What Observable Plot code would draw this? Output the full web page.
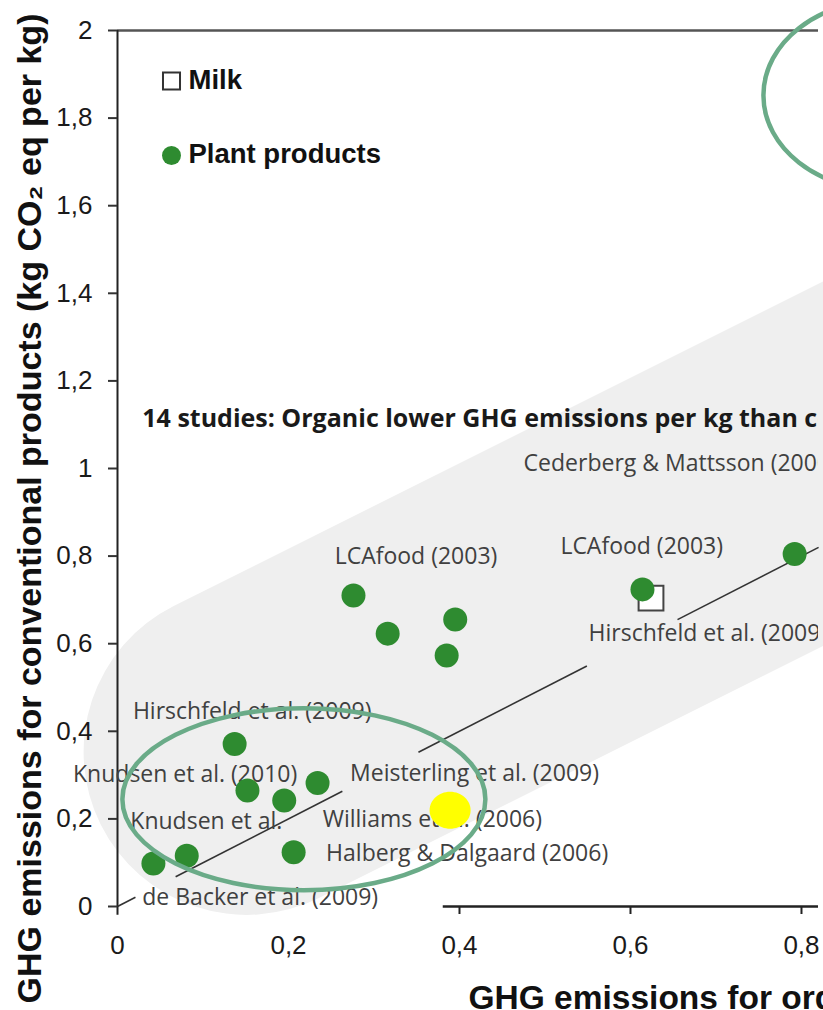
<!DOCTYPE html>
<html><head><meta charset="utf-8">
<script src="https://cdn.jsdelivr.net/npm/d3@7"></script>
<script src="https://cdn.jsdelivr.net/npm/@observablehq/plot@0.6"></script>
<style>html,body{margin:0;padding:0;background:#fff;} #chart svg{display:block;}</style>
</head><body><div id="chart"></div>
<script>
// ---- data ----
const plantX = [0.042, 0.081, 0.137, 0.152, 0.195, 0.234, 0.206, 0.276, 0.316, 0.395, 0.385, 0.614, 0.792];
const plantY = [0.098, 0.116, 0.371, 0.265, 0.242, 0.282, 0.124, 0.710, 0.623, 0.655, 0.573, 0.724, 0.805];
const milkX = [0.624];
const milkY = [0.704];
const highlightX = [0.389];
const highlightY = [0.220];
const labelTexts = ["Hirschfeld et al. (2009)", "Knudsen et al. (2010)", "Meisterling et al. (2009)", "Knudsen et al.",
  "Williams et al. (2006)", "Halberg & Dalgaard (2006)", "de Backer et al. (2009)", "LCAfood (2003)",
  "LCAfood (2003)", "Hirschfeld et al. (2009)", "Cederberg & Mattsson (2000)"];
const labelX = [0.018, -0.052, 0.272, 0.015, 0.240, 0.244, 0.029, 0.254, 0.518, 0.551, 0.475];
const labelY = [0.444, 0.302, 0.303, 0.193, 0.199, 0.120, 0.021, 0.799, 0.822, 0.623, 1.011];
const noteText = ["14 studies: Organic lower GHG emissions per kg than conventional"];
const noteX = [0.029];
const noteY = [1.113];
const diagSegments = [[0, 0.021], [0.068, 0.263], [0.352, 0.549], [0.655, 0.82]]; // y = x line pieces
const bandX = [0.151, 1.384];
const bandY = [0.353, 1.556];
const ringCenters = [[0.218, 0.245], [0.897, 1.852]];
const xTicks = [0, 0.2, 0.4, 0.6, 0.8];
const xTickMarks = [0.4, 0.6, 0.8];
const yTicks = [0, 0.2, 0.4, 0.6, 0.8, 1, 1.2, 1.4, 1.6, 1.8, 2];
const legendItems = ["Milk", "Plant products"];
const xTitle = "GHG emissions for organic products (kg CO₂ eq per kg)";
const yTitle = "GHG emissions for conventional products (kg CO₂ eq per kg)";

// ---- helpers ----
const fmt = d => String(d).replace(".", ",");
function ellipseSymbol(rx, ry) {
  const k = 0.5523;
  return {draw(ctx) {
    const kx = rx * k, ky = ry * k;
    ctx.moveTo(rx, 0);
    ctx.bezierCurveTo(rx, ky, kx, ry, 0, ry);
    ctx.bezierCurveTo(-kx, ry, -rx, ky, -rx, 0);
    ctx.bezierCurveTo(-rx, -ky, -kx, -ry, 0, -ry);
    ctx.bezierCurveTo(kx, -ry, rx, -ky, rx, 0);
    ctx.closePath();
  }};
}
const green = "#2e8b30";
const ringColor = "#6aab88";
const labelFont = "'Open Sans', sans-serif";

const plants = plantX.map((x, i) => ({x, y: plantY[i]}));
const milk = milkX.map((x, i) => ({x, y: milkY[i]}));
const highlight = highlightX.map((x, i) => ({x, y: highlightY[i]}));
const labels = labelTexts.map((t, i) => ({t, x: labelX[i], y: labelY[i]}));
const band = bandX.map((x, i) => ({x, y: bandY[i]}));
const notes = noteText.map((t, i) => ({t, x: noteX[i], y: noteY[i]}));

const chart = Plot.plot({
  width: 823,
  height: 1010,
  marginLeft: 117,
  marginRight: 5,
  marginTop: 30,
  marginBottom: 104,
  x: {domain: [0, 0.8199]},
  y: {domain: [0, 2]},
  style: {fontFamily: "'Liberation Sans', Arial, sans-serif", fontSize: "26px", color: "#1a1a1a", background: "white"},
  marks: [
    // grey band
    Plot.line(band, {x: "x", y: "y", stroke: "#efefef", strokeWidth: 326, strokeLinecap: "round"}),
    // axes
    Plot.ruleY([2], {stroke: "#555", strokeWidth: 2.5}),
    Plot.ruleX([0], {y1: -0.02, y2: 2, stroke: "#222", strokeWidth: 2}),
    Plot.ruleY([0], {x1: 0.381, x2: 0.8199, stroke: "#222", strokeWidth: 2.5}),
    Plot.axisY(yTicks, {tickSize: 9, tickPadding: 16, tickFormat: fmt, stroke: "#333", strokeWidth: 2, label: null, fontSize: 26, fill: "#1a1a1a"}),
    Plot.axisX(xTickMarks, {tickSize: 8, tickFormat: () => "", stroke: "#222", strokeWidth: 2, label: null}),
    Plot.axisX(xTicks, {tickSize: 0, tickPadding: 29, tickFormat: fmt, label: null, fontSize: 26, fill: "#1a1a1a"}),
    // y = x line
    Plot.link(diagSegments, {x1: d => d[0], y1: d => d[0], x2: d => d[1], y2: d => d[1], stroke: "#333", strokeWidth: 1.6}),
    // study labels
    Plot.text(labels.filter(d => d.x < 0.45), {x: "x", y: "y", text: "t", textAnchor: "start", lineAnchor: "middle", fontFamily: labelFont, fontSize: 23, fill: "#404040"}),
    Plot.text(labels.filter(d => d.x >= 0.45), {x: "x", y: "y", text: "t", textAnchor: "start", lineAnchor: "middle", fontFamily: labelFont, fontSize: 23, fill: "#404040", clip: true}),
    Plot.text(notes, {x: "x", y: "y", text: "t", textAnchor: "start", lineAnchor: "middle", fontFamily: labelFont, fontSize: 25, fontWeight: "bold", fill: "#1a1a1a", clip: true}),
    // points
    Plot.dot(milk, {x: "x", y: "y", symbol: "square", r: 14, fill: "white", stroke: "#444", strokeWidth: 2}),
    Plot.dot(plants, {x: "x", y: "y", r: 12, fill: green}),
    Plot.dot(highlight, {x: "x", y: "y", symbol: ellipseSymbol(20.5, 18.5), fill: "#ffff00", stroke: "none"}),
    // rings
    Plot.dot([ringCenters[0]], {x: d => d[0], y: d => d[1], symbol: ellipseSymbol(181.5, 91), fill: "none", stroke: ringColor, strokeWidth: 4.5}),
    Plot.dot([ringCenters[1]], {x: d => d[0], y: d => d[1], symbol: ellipseSymbol(121, 95), fill: "none", stroke: ringColor, strokeWidth: 4.5}),
    // legend
    Plot.dot([legendItems[0]], {frameAnchor: "top-left", dx: 54, dy: 50.5, symbol: "square", r: 9.6, fill: "white", stroke: "#333", strokeWidth: 2}),
    Plot.dot([legendItems[1]], {frameAnchor: "top-left", dx: 54, dy: 125, r: 9.5, fill: green}),
    Plot.text([legendItems[0]], {frameAnchor: "top-left", dx: 71, dy: 49.5, textAnchor: "start", lineAnchor: "middle", fontSize: 27.5, fontWeight: "bold", fill: "#111"}),
    Plot.text([legendItems[1]], {frameAnchor: "top-left", dx: 71, dy: 123.5, textAnchor: "start", lineAnchor: "middle", fontSize: 27.5, fontWeight: "bold", fill: "#111"}),
    // axis titles
    Plot.text([yTitle], {frameAnchor: "left", rotate: -90, dx: -87, dy: 40, textAnchor: "middle", lineAnchor: "middle", fontSize: 34, fontWeight: "bold", fill: "#111"}),
    Plot.text([xTitle], {frameAnchor: "bottom-left", dx: 351, dy: 92, textAnchor: "start", lineAnchor: "middle", fontSize: 33.5, fontWeight: "bold", fill: "#111"})
  ]
});
document.getElementById("chart").appendChild(chart);
</script></body></html>
